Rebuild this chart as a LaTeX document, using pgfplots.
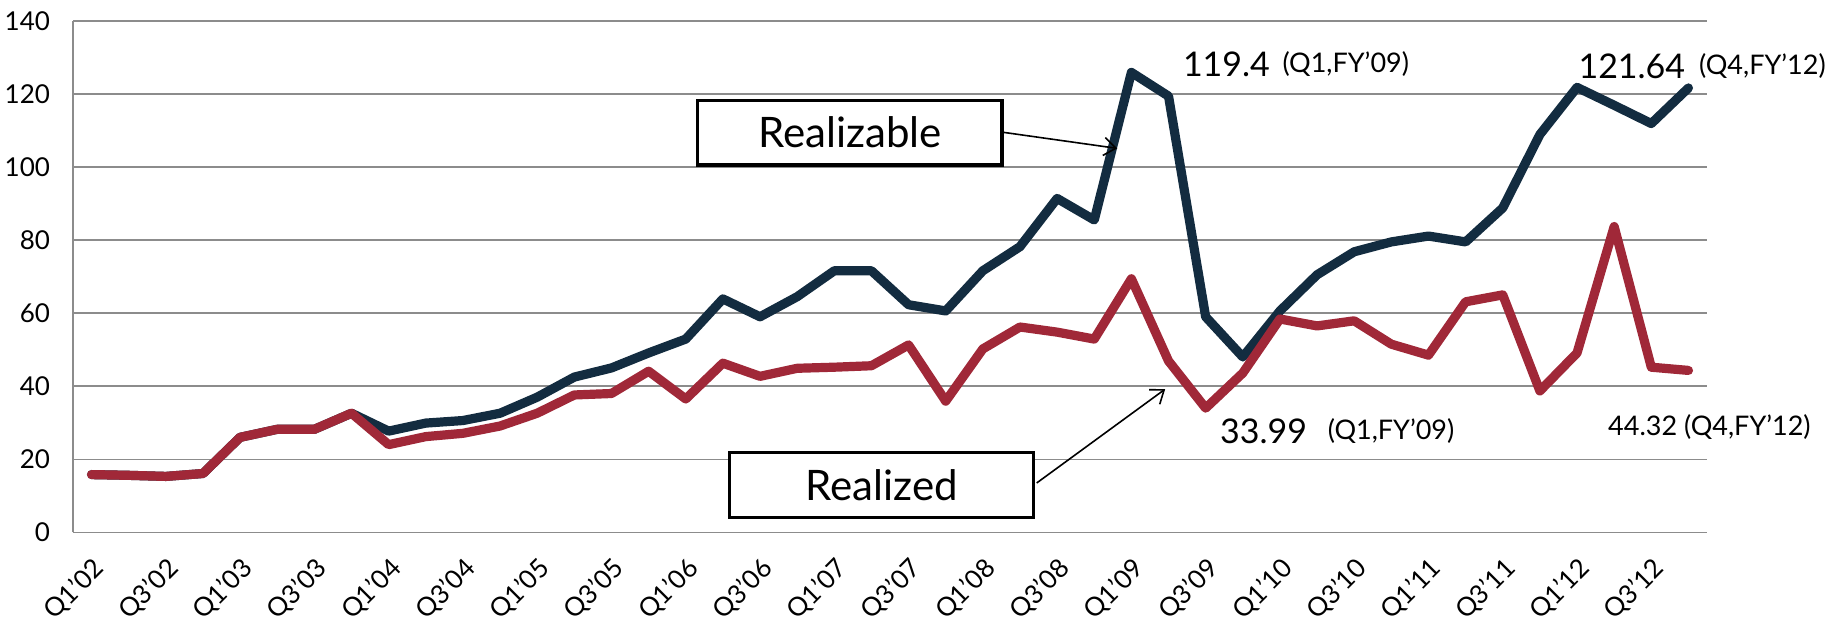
\documentclass[border=0pt]{standalone}
\usepackage{fontspec}
\setmainfont{Lato}
\usepackage{pgfplots}
\pgfplotsset{compat=1.18}
\usetikzlibrary{arrows.meta}
\definecolor{navy}{RGB}{19,44,64}
\definecolor{wine}{RGB}{160,40,56}
\definecolor{gridgray}{RGB}{140,140,140}
\pgfplotstableread{
x realizable realized
0 15.8 15.8
1 15.6 15.6
2 15.3 15.3
3 16.1 16.1
4 26.0 26.0
5 28.2 28.2
6 28.2 28.2
7 32.6 32.6
8 27.7 24.0
9 29.9 26.2
10 30.6 27.1
11 32.6 29.1
12 37.0 32.6
13 42.5 37.6
14 45.0 38.0
15 49.1 44.1
16 52.9 36.5
17 63.9 46.3
18 59.0 42.7
19 64.5 44.9
20 71.6 45.2
21 71.6 45.6
22 62.3 51.3
23 60.6 35.9
24 71.6 50.2
25 78.2 56.2
26 91.4 54.8
27 85.5 52.9
28 125.9 69.4
29 119.4 46.9
30 59.0 33.99
31 48.0 43.6
32 60.6 58.4
33 70.5 56.5
34 76.8 57.9
35 79.5 51.5
36 81.1 48.5
37 79.5 63.1
38 88.8 65.0
39 108.9 38.7
40 121.8 49.1
41 116.9 83.7
42 111.9 45.2
43 121.64 44.32
}\datatable
\tikzset{qlab/.style={rotate=45, anchor=north east, inner sep=1pt, font=\fontsize{13}{13}\selectfont}}
\begin{document}
\begin{tikzpicture}
\useasboundingbox (-36.5pt,-48.35pt) rectangle (876.5pt,266.15pt);
\begin{axis}[
  scale only axis,
  width=817pt, height=255.7pt,
  xmin=-0.5, xmax=43.5,
  ymin=0, ymax=140,
  ytick={0,20,...,140},
  xtick={0,2,...,42},
  xticklabels={},
  axis x line*=bottom,
  axis y line*=left,
  x axis line style={-, gridgray, line width=0.7pt},
  y axis line style={-, gridgray, line width=0.7pt},
  ymajorgrids,
  grid style={gridgray, line width=0.7pt},
  major tick length=0pt,
  /pgf/number format/assume math mode=true,
  tick label style={font=\fontsize{13}{13}\selectfont},
  y tick label style={xshift=-8pt},
  clip=false,
]
\addplot[navy, line width=4.6pt, line join=round, line cap=round] table[x=x, y=realizable] {\datatable};
\addplot[wine, line width=4.6pt, line join=round, line cap=round] table[x=x, y=realized] {\datatable};

% category labels (rotated 45 degrees)
\node[qlab] at (axis cs:0,-5.6) {Q1'02};
\node[qlab] at (axis cs:2,-5.6) {Q3'02};
\node[qlab] at (axis cs:4,-5.6) {Q1'03};
\node[qlab] at (axis cs:6,-5.6) {Q3'03};
\node[qlab] at (axis cs:8,-5.6) {Q1'04};
\node[qlab] at (axis cs:10,-5.6) {Q3'04};
\node[qlab] at (axis cs:12,-5.6) {Q1'05};
\node[qlab] at (axis cs:14,-5.6) {Q3'05};
\node[qlab] at (axis cs:16,-5.6) {Q1'06};
\node[qlab] at (axis cs:18,-5.6) {Q3'06};
\node[qlab] at (axis cs:20,-5.6) {Q1'07};
\node[qlab] at (axis cs:22,-5.6) {Q3'07};
\node[qlab] at (axis cs:24,-5.6) {Q1'08};
\node[qlab] at (axis cs:26,-5.6) {Q3'08};
\node[qlab] at (axis cs:28,-5.6) {Q1'09};
\node[qlab] at (axis cs:30,-5.6) {Q3'09};
\node[qlab] at (axis cs:32,-5.6) {Q1'10};
\node[qlab] at (axis cs:34,-5.6) {Q3'10};
\node[qlab] at (axis cs:36,-5.6) {Q1'11};
\node[qlab] at (axis cs:38,-5.6) {Q3'11};
\node[qlab] at (axis cs:40,-5.6) {Q1'12};
\node[qlab] at (axis cs:42,-5.6) {Q3'12};

\node[anchor=west, font=\fontsize{17}{17}\selectfont] at (axis cs:29.2,128.2) {119.4};
\node[anchor=west, font=\fontsize{13.5}{13.5}\selectfont] at (axis cs:31.88,128.2) {(Q1,FY’09)};
\node[anchor=west, font=\fontsize{17}{17}\selectfont] at (axis cs:39.85,127.6) {121.64};
\node[anchor=west, font=\fontsize{13.5}{13.5}\selectfont] at (axis cs:43.1,127.6) {(Q4,FY’12)};
\node[anchor=west, font=\fontsize{17}{17}\selectfont] at (axis cs:30.2,27.7) {33.99};
\node[anchor=west, font=\fontsize{13.5}{13.5}\selectfont] at (axis cs:33.1,27.7) {(Q1,FY’09)};
\node[anchor=west, font=\fontsize{13.5}{13.5}\selectfont] at (axis cs:40.65,28.8) {44.32 (Q4,FY’12)};

\node[draw=black, line width=1.6pt, fill=white, minimum width=152pt, minimum height=32.25pt, inner sep=0pt, font=\fontsize{21}{21}\selectfont] at (axis cs:20.42,109.4) {Realizable};
\node[draw=black, line width=1.6pt, fill=white, minimum width=152pt, minimum height=32.5pt, inner sep=0pt, font=\fontsize{21}{21}\selectfont] at (axis cs:21.28,12.95) {Realized};
\draw[-{Straight Barb[length=6pt,width=9pt]}, line width=0.8pt] (axis cs:24.55,109.5) -- (axis cs:27.62,105.1);
\draw[-{Straight Barb[length=6pt,width=9pt]}, line width=0.8pt] (axis cs:25.45,13.5) -- (axis cs:28.91,39.2);
\end{axis}
\end{tikzpicture}
\end{document}
